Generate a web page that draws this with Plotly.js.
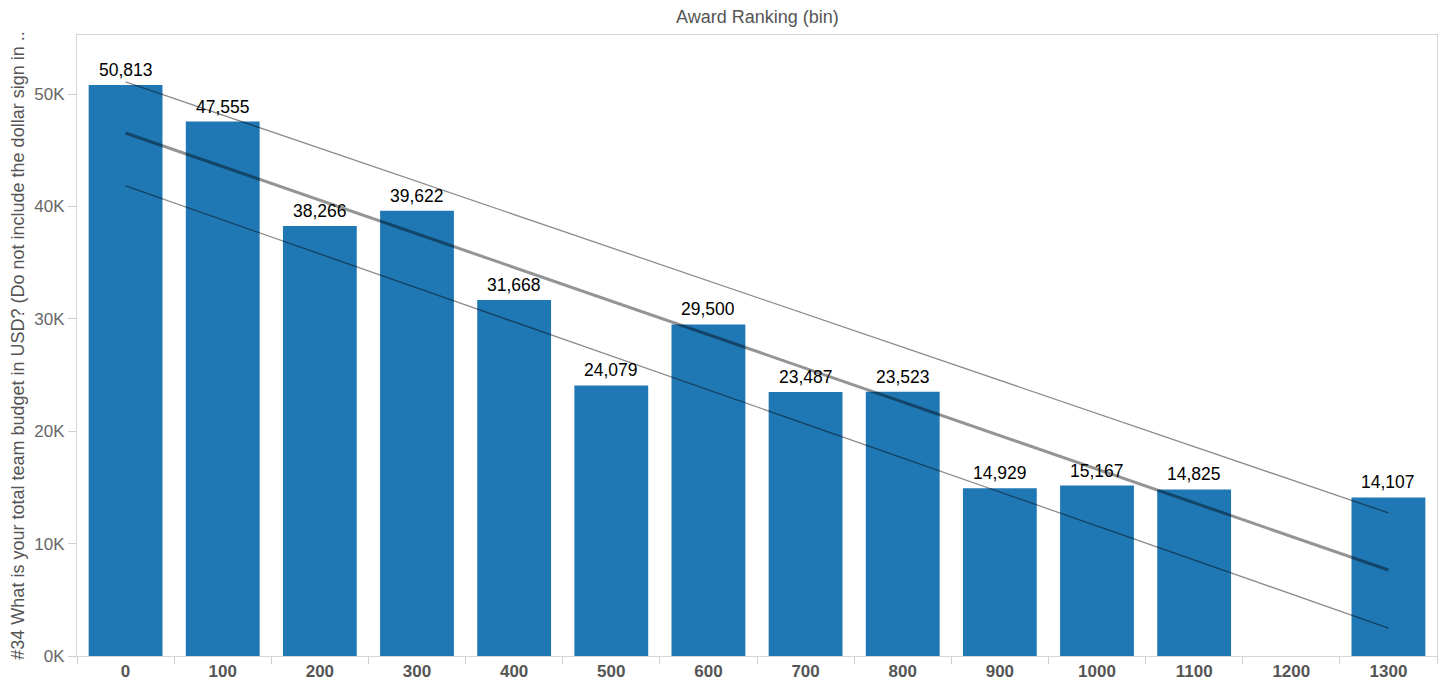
<!DOCTYPE html>
<html>
<head>
<meta charset="utf-8">
<script src="https://cdn.plot.ly/plotly-3.0.1.min.js"></script>
<style>
  html, body { margin: 0; padding: 0; background: #fff; }
  #chart { width: 1443px; height: 685px; }
</style>
</head>
<body>
<div id="chart"></div>
<script>
// Categories on the x axis (Award Ranking bins)
const binLabels = ['0','100','200','300','400','500','600','700','800','900','1000','1100','1200','1300'];
// Bars (bin 1200 has no data)
const barBins = ['0','100','200','300','400','500','600','700','800','900','1000','1100','1300'];
const budgetValues = [50813, 47555, 38266, 39622, 31668, 24079, 29500, 23487, 23523, 14929, 15167, 14825, 14107];
// Trend line and its confidence band, endpoints
const trendBins = ['0', '1300'];
const trendValues = [46540, 7650];
const upperValues = [51080, 12730];
const lowerValues = [41830, 2490];
// Y axis ticks
const yTickVals = [0, 10000, 20000, 30000, 40000, 50000];
const yTickText = ['0K', '10K', '20K', '30K', '40K', '50K'];

const font = 'Liberation Sans, Arial, sans-serif';

const traces = [
  {
    type: 'bar',
    x: barBins,
    y: budgetValues,
    marker: { color: '#1f77b4' },
    hoverinfo: 'skip'
  },
  {
    type: 'scatter', mode: 'lines',
    x: trendBins, y: upperValues,
    line: { color: 'rgba(0,0,0,0.45)', width: 1.3 },
    hoverinfo: 'skip'
  },
  {
    type: 'scatter', mode: 'lines',
    x: trendBins, y: lowerValues,
    line: { color: 'rgba(0,0,0,0.45)', width: 1.3 },
    hoverinfo: 'skip'
  },
  {
    type: 'scatter', mode: 'lines',
    x: trendBins, y: trendValues,
    line: { color: 'rgba(0,0,0,0.42)', width: 3 },
    hoverinfo: 'skip'
  }
];

// Value labels above bars (category index used, since labels are numeric strings)
const valueLabels = barBins.map((b, i) => ({
  x: binLabels.indexOf(b), y: budgetValues[i],
  xref: 'x', yref: 'y',
  text: budgetValues[i].toLocaleString('en-US'),
  showarrow: false,
  xanchor: 'center', yanchor: 'bottom',
  yshift: 3,
  font: { family: font, size: 17.5, color: '#000' }
}));

const layout = {
  width: 1443,
  height: 685,
  margin: { l: 77, r: 6, t: 35, b: 29 },
  paper_bgcolor: '#fff',
  plot_bgcolor: '#fff',
  showlegend: false,
  bargap: 0.24,
  font: { family: font, color: '#555' },
  annotations: [{
    text: 'Award Ranking (bin)',
    xref: 'paper', yref: 'paper',
    x: 0.5, y: 1, yshift: 18,
    xanchor: 'center', yanchor: 'middle',
    showarrow: false,
    font: { family: font, size: 18, color: '#555' }
  }].concat(valueLabels),
  xaxis: {
    type: 'category',
    categoryorder: 'array',
    categoryarray: binLabels,
    range: [-0.5, 13.5],
    showgrid: false,
    zeroline: false,
    showline: true,
    mirror: true,
    linecolor: '#d6d6d6',
    linewidth: 1,
    ticks: 'outside',
    tickson: 'boundaries',
    ticklen: 7,
    tickcolor: '#cfcfcf',
    tickfont: { family: font, size: 17, color: '#555', weight: 'bold' }
  },
  yaxis: {
    range: [0, 55260],
    tickvals: yTickVals,
    ticktext: yTickText,
    showgrid: false,
    zeroline: false,
    showline: true,
    mirror: true,
    linecolor: '#d6d6d6',
    linewidth: 1,
    ticks: 'outside',
    ticklen: 8,
    tickcolor: '#cfcfcf',
    tickfont: { family: font, size: 17, color: '#666' },
    title: {
      text: '#34 What is your total team budget in USD? (Do not include the dollar sign in ..',
      font: { family: font, size: 18, color: '#555' },
      standoff: 5
    }
  }
};

Plotly.newPlot('chart', traces, layout, { displayModeBar: false, staticPlot: true });
</script>
</body>
</html>
